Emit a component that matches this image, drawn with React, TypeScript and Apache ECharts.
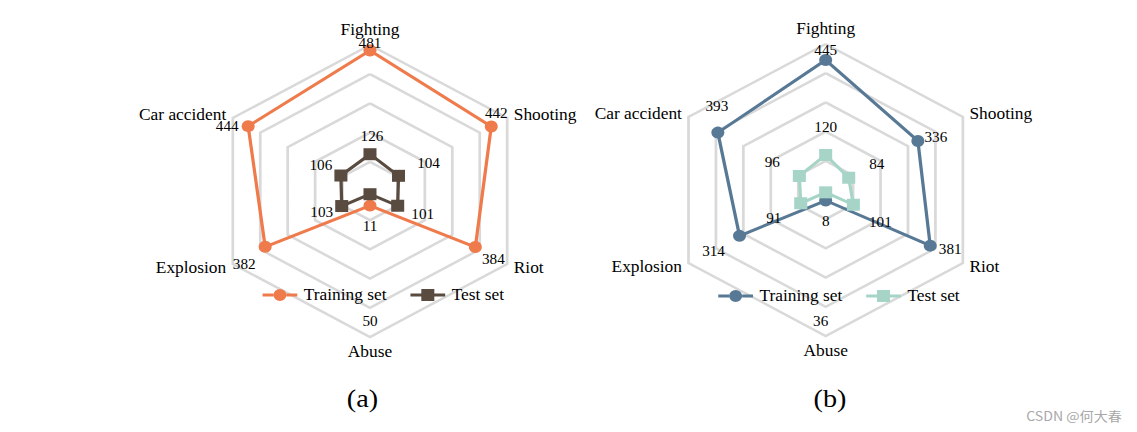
import React, { useEffect, useRef } from 'react';
import * as echarts from 'echarts';

// ---------- data ----------
const categories = ['Fighting', 'Car accident', 'Explosion', 'Abuse', 'Riot', 'Shooting'];
const trainA = [481, 444, 382, 50, 384, 442];
const testA = [126, 106, 103, 11, 101, 104];
const trainB = [445, 393, 314, 36, 381, 336];
const testB = [120, 96, 91, 8, 101, 84];
const axisMin = 0;
const axisMax = 500;
const seriesNames = ['Training set', 'Test set'];
const panelTitles = ['(a)', '(b)'];
const watermark = 'CSDN @何大春';

// ---------- styles ----------
const S = 1.085; // horizontal stretch of the reference picture
const W = 1137 / S;
const SERIF = 'Liberation Serif';

// label offsets (page px) from each marker, in category order
const offTrainA = [[0, -7], [-21, 0], [-21, 17], [0, 116], [18, 12], [5, -13]];
const offTestA = [[2, -18], [-20, -10], [-20, 6], [0, 32], [25, 8], [30, -13]];
const offTrainB = [[0, -10], [-1, -26], [-26, 15], [-5, 121], [20, 4], [18, -4]];
const offTestB = [[0, -28], [-27, -14], [-27, 15], [0, 29], [27, 17], [28, -14]];

const circleIcon = 'path://M0,4.5H10V7.5H0Z M22,4.5H32V7.5H22Z M10,6A6,6 0 1,1 22,6A6,6 0 1,1 10,6Z';
const squareIcon = 'path://M0,4.5H10V7.5H0Z M22,4.5H32V7.5H22Z M10,0H22V12H10Z';

type Cfg = {
  center: [number, number];
  train: number[];
  test: number[];
  colors: [string, string];
  offTrain: number[][];
  offTest: number[][];
  legendLeft: number;
  legendTop: number;
  title: string;
  titleX: number;
  mark?: { x: number; y: number };
};

function makeOption(c: Cfg): any {
  const graphic: any[] = [
    {
      type: 'text',
      x: c.titleX,
      y: 398,
      style: {
        text: c.title,
        font: `26px "${SERIF}"`,
        fill: '#000',
        textAlign: 'center',
        textVerticalAlign: 'middle',
      },
    },
  ];
  if (c.mark) {
    graphic.push({
      type: 'text',
      x: c.mark.x,
      y: c.mark.y,
      style: {
        text: watermark,
        font: '13px "Noto Sans CJK SC"',
        fill: '#a8a8a8',
        textAlign: 'right',
        textVerticalAlign: 'middle',
      },
    });
  }
  return {
    animation: false,
    backgroundColor: 'transparent',
    legend: {
      data: [
        { name: seriesNames[0], icon: circleIcon },
        { name: seriesNames[1], icon: squareIcon },
      ],
      left: c.legendLeft,
      top: c.legendTop,
      padding: 0,
      itemWidth: 32,
      itemHeight: 12,
      itemGap: 22,
      selectedMode: false,
      textStyle: { fontFamily: SERIF, fontSize: 16, color: '#000', padding: [0, 0, 0, 1] },
    },
    radar: {
      center: c.center,
      radius: 146,
      startAngle: 90,
      splitNumber: 5,
      shape: 'polygon',
      nameGap: 7,
      indicator: categories.map((n) => ({ name: n, min: axisMin, max: axisMax })),
      axisName: { color: '#000', fontFamily: SERIF, fontSize: 16 },
      axisLine: { show: false },
      axisTick: { show: false },
      axisLabel: { show: false },
      splitArea: { show: false },
      splitLine: { lineStyle: { color: '#d9d9d9', width: 2.5 } },
    },
    graphic,
    series: [
      {
        type: 'radar',
        silent: true,
        label: {
          show: true,
          position: 'inside',
          color: '#000',
          fontFamily: SERIF,
          fontSize: 14,
          textBorderWidth: 0,
          textBorderColor: 'transparent',
        },
        labelLayout: (p: any) => {
          const vals = p.dataIndex === 0 ? c.train : c.test;
          const offs = p.dataIndex === 0 ? c.offTrain : c.offTest;
          const k = vals.indexOf(Number(p.text));
          if (k < 0) return {};
          return { dx: offs[k][0] / S, dy: offs[k][1] };
        },
        data: [
          {
            name: seriesNames[0],
            value: c.train,
            symbol: 'circle',
            symbolSize: 12,
            itemStyle: { color: c.colors[0] },
            lineStyle: { color: c.colors[0], width: 3 },
          },
          {
            name: seriesNames[1],
            value: c.test,
            symbol: 'rect',
            symbolSize: 12,
            itemStyle: { color: c.colors[1] },
            lineStyle: { color: c.colors[1], width: 3 },
          },
        ],
      },
    ],
  };
}

function Panel({ cfg }: { cfg: Cfg }) {
  const ref = useRef<HTMLDivElement>(null);
  useEffect(() => {
    if (!ref.current) return;
    const chart = echarts.init(ref.current, undefined, { renderer: 'svg' });
    chart.setOption(makeOption(cfg));
    return () => chart.dispose();
  }, []);
  return (
    <div
      ref={ref}
      style={{ position: 'absolute', left: 0, top: 0, width: W, height: 432 }}
    />
  );
}

const cfgA: Cfg = {
  center: [341, 191],
  train: trainA,
  test: testA,
  colors: ['#EF7A4B', '#594B3F'],
  offTrain: offTrainA,
  offTest: offTestA,
  legendLeft: 242,
  legendTop: 287,
  title: panelTitles[0],
  titleX: 334,
};

const cfgB: Cfg = {
  center: [761, 190],
  train: trainB,
  test: testB,
  colors: ['#587995', '#A6D4C7'],
  offTrain: offTrainB,
  offTest: offTestB,
  legendLeft: 662,
  legendTop: 288,
  title: panelTitles[1],
  titleX: 765,
  mark: { x: 1034, y: 415 },
};

export default function App() {
  return (
    <div
      style={{
        position: 'fixed',
        left: 0,
        top: 0,
        width: W,
        height: 432,
        background: '#fff',
        transform: `scaleX(${S})`,
        transformOrigin: '0 0',
      }}
    >
      <Panel cfg={cfgA} />
      <Panel cfg={cfgB} />
    </div>
  );
}
